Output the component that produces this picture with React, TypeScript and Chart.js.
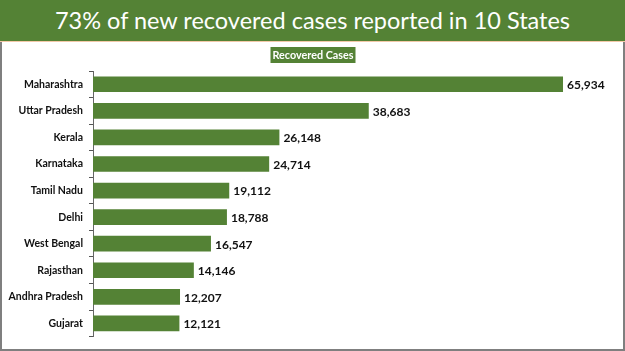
import React, { useEffect, useRef } from "react";
import { Chart, registerables } from "chart.js";

Chart.register(...registerables);

const titleText = "73% of new recovered cases reported in 10 States";
const seriesLabel = "Recovered Cases";
const states = [
  "Maharashtra",
  "Uttar Pradesh",
  "Kerala",
  "Karnataka",
  "Tamil Nadu",
  "Delhi",
  "West Bengal",
  "Rajasthan",
  "Andhra Pradesh",
  "Gujarat",
];
const recovered = [65934, 38683, 26148, 24714, 19112, 18788, 16547, 14146, 12207, 12121];
const xMax = 70000;

const GREEN = "#548235";

const valueLabels = {
  id: "valueLabels",
  afterDatasetsDraw(chart: any) {
    const { ctx } = chart;
    const meta = chart.getDatasetMeta(0);
    ctx.save();
    ctx.font = "bold 12px Lato";
    ctx.fillStyle = "#111";
    ctx.textAlign = "left";
    ctx.textBaseline = "middle";
    meta.data.forEach((bar: any, i: number) => {
      const v = chart.data.datasets[0].data[i] as number;
      ctx.fillText(v.toLocaleString("en-US"), bar.x + 4, bar.y + 1);
    });
    ctx.restore();
  },
};

const legendBox = {
  id: "legendBox",
  afterDraw(chart: any) {
    const { ctx } = chart;
    const text = chart.data.datasets[0].label as string;
    ctx.save();
    ctx.font = "bold 11.5px Lato";
    const w = 85;
    const cx = 311;
    const top = 4;
    const h = 16;
    ctx.fillStyle = GREEN;
    ctx.fillRect(cx - w / 2, top, w, h);
    ctx.fillStyle = "#ffffff";
    ctx.textAlign = "center";
    ctx.textBaseline = "middle";
    ctx.fillText(text, cx, top + h / 2 + 0.5, 81);
    ctx.restore();
  },
};

export default function App() {
  const canvasRef = useRef<HTMLCanvasElement | null>(null);

  useEffect(() => {
    if (!canvasRef.current) return;
    const chart = new Chart(canvasRef.current, {
      type: "bar",
      data: {
        labels: states,
        datasets: [
          {
            label: seriesLabel,
            data: recovered,
            backgroundColor: GREEN,
            borderWidth: 0,
            barPercentage: 0.59,
            categoryPercentage: 1,
          },
        ],
      },
      options: {
        indexAxis: "y",
        responsive: false,
        animation: false,
        layout: { padding: { left: 0, right: 30, top: 28, bottom: 6 } },
        plugins: {
          legend: { display: false },
          tooltip: { enabled: false },
          title: { display: false },
        },
        scales: {
          x: { display: false, min: 0, max: xMax },
          y: {
            afterFit: (scale: any) => {
              scale.width = 91;
            },
            ticks: {
              color: "#111",
              font: { family: "Lato", weight: "bold", size: 10.5 },
              padding: 6,
            },
            grid: {
              display: true,
              drawOnChartArea: false,
              drawTicks: true,
              tickLength: 4,
              color: "#555",
              offset: true,
            },
            border: { display: true, color: "#666", width: 1 },
          },
        },
      },
      plugins: [valueLabels, legendBox],
    });
    return () => chart.destroy();
  }, []);

  return (
    <div
      style={{
        position: "fixed",
        left: 0,
        top: 0,
        width: 625,
        height: 351,
        overflow: "hidden",
        background: "#ffffff",
      }}
    >
      <div
        style={{
          position: "absolute",
          left: 0,
          top: 0,
          width: 625,
          height: 41,
          background: GREEN,
        }}
      >
        <div
          style={{
            position: "absolute",
            left: 0,
            top: 0,
            width: 625,
            height: 41,
            lineHeight: "41px",
            textAlign: "center",
            color: "#ffffff",
            fontFamily: "Lato",
            fontSize: 23.5,
            whiteSpace: "nowrap",
          }}
        >
          {titleText}
        </div>
      </div>
      <div
        style={{
          position: "absolute",
          left: 0,
          top: 41,
          width: 625,
          height: 1,
          background: "#f3c9a8",
        }}
      />
      <div
        style={{
          position: "absolute",
          left: 0,
          top: 42,
          width: 625,
          height: 309,
          boxSizing: "border-box",
          borderLeft: "2px solid #7f7f7f",
          borderRight: "2px solid #7f7f7f",
          borderBottom: "2px solid #7f7f7f",
        }}
      />
      <canvas
        ref={canvasRef}
        width={620}
        height={306}
        style={{ position: "absolute", left: 2, top: 43, width: 620, height: 306 }}
      />
    </div>
  );
}
